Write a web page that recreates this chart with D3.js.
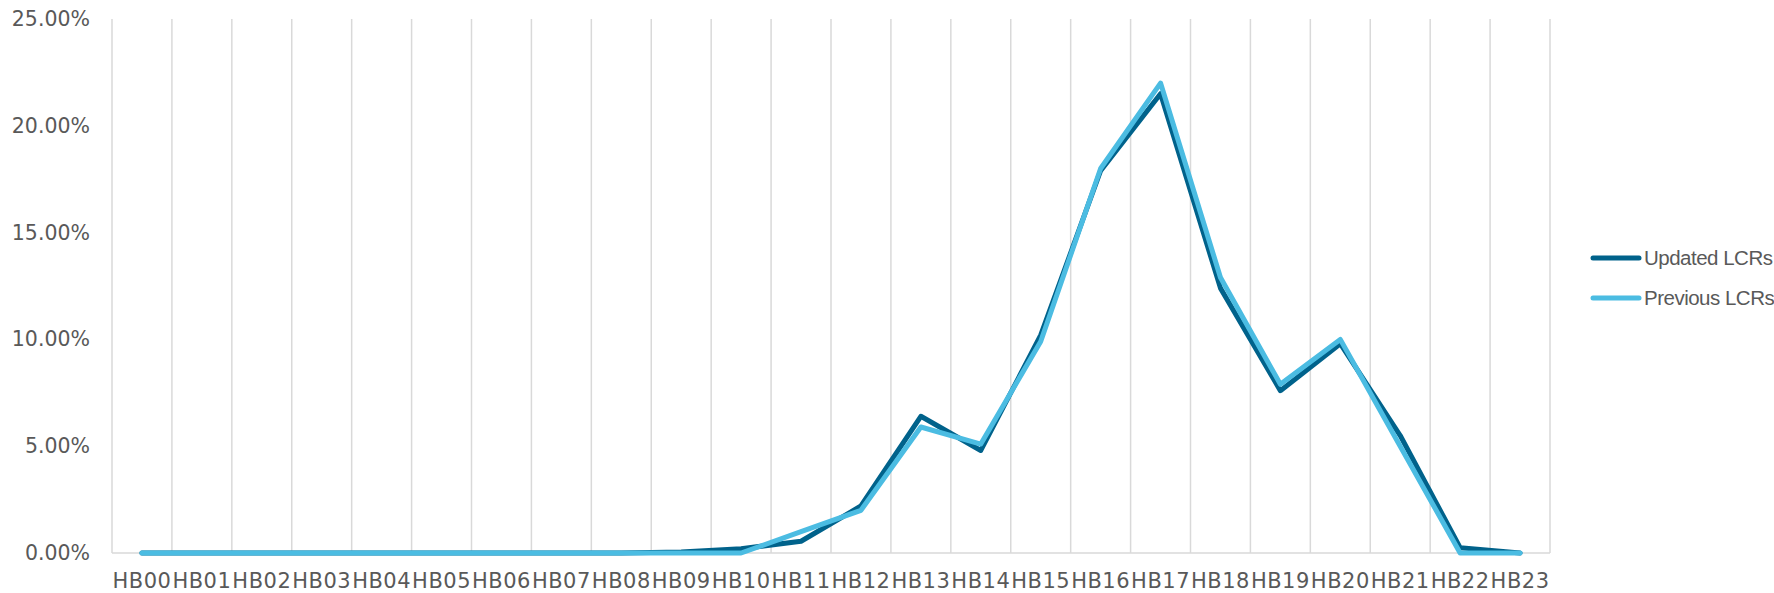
<!DOCTYPE html>
<html>
<head>
<meta charset="utf-8">
<script src="https://cdn.jsdelivr.net/npm/d3@7"></script>
<style>
  html, body { margin: 0; padding: 0; background: #ffffff; }
  svg { display: block; }
</style>
</head>
<body>
<svg id="chart" width="1774" height="593"></svg>
<script>
// ---- data ----
const categories = ["HB00","HB01","HB02","HB03","HB04","HB05","HB06","HB07","HB08","HB09","HB10","HB11",
                    "HB12","HB13","HB14","HB15","HB16","HB17","HB18","HB19","HB20","HB21","HB22","HB23"];
const updatedLCRs  = [0,0,0,0,0,0,0,0,0,0.0005,0.002,0.0055,0.022,0.064,0.048,0.102,0.179,0.215,0.124,0.076,0.098,0.055,0.0025,0];
const previousLCRs = [0,0,0,0,0,0,0,0,0,0,0,0.010,0.020,0.059,0.051,0.099,0.180,0.220,0.129,0.079,0.100,0.050,0,0];
const yTicks = [0, 0.05, 0.10, 0.15, 0.20, 0.25];
const seriesNames = ["Updated LCRs", "Previous LCRs"];
const seriesColors = ["#00628B", "#4BBCE2"];

// ---- layout ----
const svg = d3.select("#chart");
const plotLeft = 112, plotRight = 1550, plotTop = 19, plotBottom = 553;

const x = d3.scaleBand().domain(categories).range([plotLeft, plotRight]).padding(0);
const y = d3.scaleLinear().domain([0, 0.25]).range([plotBottom, plotTop]);

// vertical gridlines at category boundaries
const bounds = categories.map(c => x(c)).concat([x.range()[1]]);
svg.append("g").selectAll("line").data(bounds).join("line")
  .attr("x1", d => d).attr("x2", d => d)
  .attr("y1", y(0.25)).attr("y2", y(0))
  .attr("stroke", "#d9d9d9").attr("stroke-width", 1.5);

// horizontal axis line
svg.append("line")
  .attr("x1", plotLeft).attr("x2", plotRight).attr("y1", y(0)).attr("y2", y(0))
  .attr("stroke", "#d9d9d9").attr("stroke-width", 1.5);

// y axis
const yAxis = svg.append("g").attr("transform", `translate(${plotLeft},0)`)
  .call(d3.axisLeft(y).tickValues(yTicks).tickSize(0).tickPadding(22).tickFormat(d3.format(".2%")));
yAxis.select(".domain").remove();
yAxis.selectAll("text")
  .attr("fill", "#595959").style("font-family", "'DejaVu Sans', sans-serif")
  .style("font-size", "20.5px");

// x axis
const xAxis = svg.append("g").attr("transform", `translate(0,${plotBottom})`)
  .call(d3.axisBottom(x).tickSize(0).tickPadding(20));
xAxis.select(".domain").remove();
xAxis.selectAll("text")
  .attr("fill", "#595959").style("font-family", "'DejaVu Sans', sans-serif")
  .style("font-size", "21px").style("letter-spacing", "0.5px");

// lines
const line = d3.line().x((d, i) => x(categories[i]) + x.bandwidth() / 2).y(d => y(d));
[updatedLCRs, previousLCRs].forEach((vals, k) => {
  svg.append("path").datum(vals)
    .attr("d", line)
    .attr("fill", "none")
    .attr("stroke", seriesColors[k])
    .attr("stroke-width", 5)
    .attr("stroke-linejoin", "round")
    .attr("stroke-linecap", "round");
});

// legend
const legend = svg.append("g");
seriesNames.forEach((name, k) => {
  const ly = 258 + k * 40;
  legend.append("line")
    .attr("x1", 1593).attr("x2", 1639).attr("y1", ly).attr("y2", ly)
    .attr("stroke", seriesColors[k]).attr("stroke-width", 5).attr("stroke-linecap", "round");
  legend.append("text")
    .attr("x", 1644).attr("y", ly).attr("dy", "0.35em")
    .attr("fill", "#595959")
    .style("font-family", "'Liberation Sans', Arial, sans-serif")
    .style("font-size", "20.5px").style("letter-spacing", "-0.5px")
    .text(name);
});
</script>
</body>
</html>
